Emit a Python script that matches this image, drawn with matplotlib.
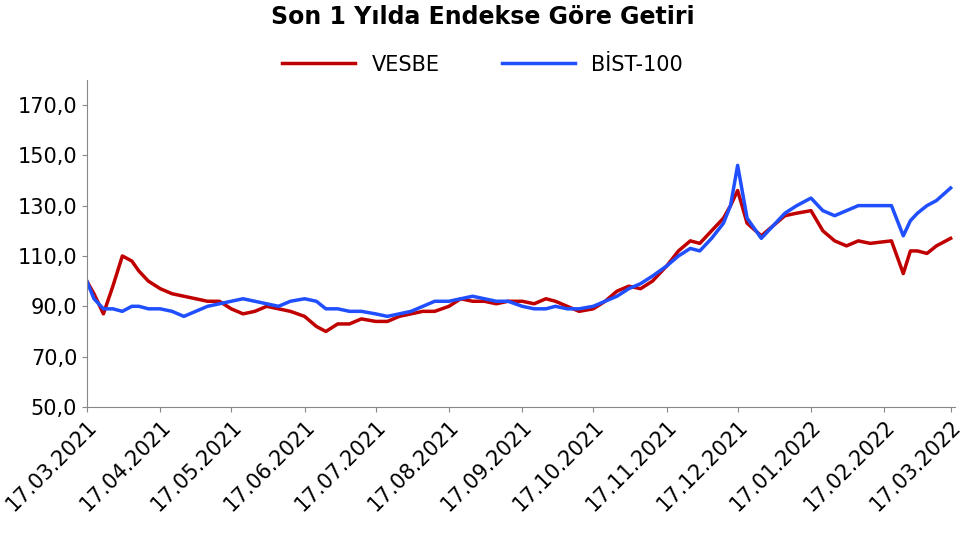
import matplotlib
matplotlib.use("Agg")
import matplotlib.pyplot as plt
import pandas as pd

dates = ["2021-03-17","2021-03-20","2021-03-24","2021-03-28","2021-04-01","2021-04-05","2021-04-08","2021-04-12",
"2021-04-17","2021-04-22","2021-04-27","2021-05-02","2021-05-07","2021-05-12","2021-05-17","2021-05-22","2021-05-27",
"2021-06-01","2021-06-06","2021-06-11","2021-06-17","2021-06-22","2021-06-26","2021-07-01","2021-07-06","2021-07-11",
"2021-07-17","2021-07-22","2021-07-27","2021-08-01","2021-08-06","2021-08-11","2021-08-17","2021-08-22","2021-08-27",
"2021-09-01","2021-09-06","2021-09-11","2021-09-17","2021-09-22","2021-09-27","2021-10-01","2021-10-06","2021-10-11",
"2021-10-17","2021-10-22","2021-10-27","2021-11-01","2021-11-06","2021-11-11","2021-11-17","2021-11-22","2021-11-27",
"2021-12-01","2021-12-06","2021-12-11","2021-12-14","2021-12-17","2021-12-21","2021-12-27","2022-01-01","2022-01-06",
"2022-01-11","2022-01-17","2022-01-22","2022-01-27","2022-02-01","2022-02-06","2022-02-11","2022-02-20","2022-02-25",
"2022-02-28","2022-03-03","2022-03-07","2022-03-11","2022-03-17"]
vesbe = [100,95,87,98,110,108,104,100,97,95,94,93,92,92,89,87,88,90,89,88,86,82,80,83,83,85,84,84,86,87,88,88,90,93,92,
92,91,92,92,91,93,92,90,88,89,92,96,98,97,100,106,112,116,115,120,125,130,136,123,118,122,126,127,128,120,116,114,116,
115,116,103,112,112,111,114,117]
bist = [100,93,89,89,88,90,90,89,89,88,86,88,90,91,92,93,92,91,90,92,93,92,89,89,88,88,87,86,87,88,90,92,92,93,94,
93,92,92,90,89,89,90,89,89,90,92,94,97,99,102,106,110,113,112,117,123,130,146,125,117,122,127,130,133,128,126,128,130,
130,130,118,124,127,130,132,137]
yticks = [50,70,90,110,130,150,170]
xtick_dates = [pd.Timestamp(2021, 3, 17) + pd.DateOffset(months=i) for i in range(13)]

d = pd.to_datetime(dates)
fig = plt.figure(figsize=(9.65, 5.5), dpi=100)
ax = fig.add_axes([0.09, 0.26, 0.9, 0.595])
ax.plot(d, vesbe, color="#c00000", lw=2.5, label="VESBE")
ax.plot(d, bist, color="#1f4fff", lw=2.5, label="BİST-100")
ax.set_ylim(50, 180)
ax.set_yticks(yticks)
ax.set_yticklabels([f"{v:.1f}".replace(".", ",") for v in yticks], fontsize=15)
ax.set_xlim(d[0], d[-1] + pd.Timedelta(days=2))
ax.set_xticks(xtick_dates)
ax.set_xticklabels([t.strftime("%d.%m.%Y") for t in xtick_dates], rotation=45, ha="right", rotation_mode="anchor", fontsize=15)
for s in ["top", "right"]:
    ax.spines[s].set_visible(False)
ax.spines["left"].set_color("#888888")
ax.spines["bottom"].set_color("#888888")
ax.tick_params(direction="out", color="#888888")
fig.suptitle("Son 1 Yılda Endekse Göre Getiri", fontsize=17, fontweight="bold", y=0.99)
fig.legend(loc="upper center", bbox_to_anchor=(0.5, 0.935), ncol=2, frameon=False, fontsize=15,
           handlelength=3.5, columnspacing=3)
fig.savefig("out.png")
